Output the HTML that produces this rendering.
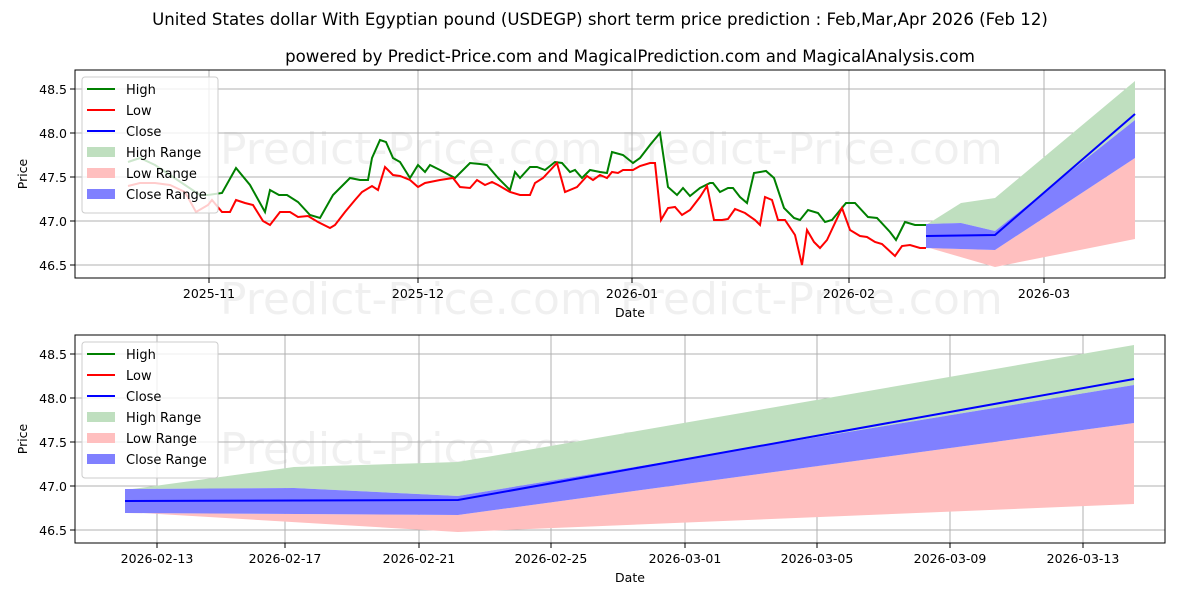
<!DOCTYPE html>
<html><head><meta charset="utf-8"><style>
body{margin:0;background:#fff}
text{font-family:"DejaVu Sans","Liberation Sans",sans-serif}
</style></head><body>
<svg width="1200" height="600" viewBox="0 0 1200 600" xmlns="http://www.w3.org/2000/svg">
<rect width="1200" height="600" fill="#fff"/>
<text x="600" y="25" font-size="16.6" text-anchor="middle">United States dollar With Egyptian pound (USDEGP) short term price prediction : Feb,Mar,Apr 2026 (Feb 12)</text>
<text x="630" y="62" font-size="16.6" text-anchor="middle">powered by Predict-Price.com and MagicalPrediction.com and MagicalAnalysis.com</text>
<g fill="#000" fill-opacity="0.06" font-size="44">
<text x="220" y="164">Predict-Price.com</text><text x="620" y="164">Predict-Price.com</text>
<text x="220" y="314">Predict-Price.com</text><text x="620" y="314">Predict-Price.com</text>
<text x="220" y="464">Predict-Price.com</text><text x="620" y="464">Predict-Price.com</text>
</g>
<!-- TOP -->
<g stroke="#b0b0b0" stroke-width="1">
<line x1="75" x2="1165" y1="89" y2="89"/><line x1="75" x2="1165" y1="133" y2="133"/><line x1="75" x2="1165" y1="177" y2="177"/><line x1="75" x2="1165" y1="221" y2="221"/><line x1="75" x2="1165" y1="265" y2="265"/>
<line x1="209" x2="209" y1="70" y2="278"/><line x1="418" x2="418" y1="70" y2="278"/><line x1="632" x2="632" y1="70" y2="278"/><line x1="849" x2="849" y1="70" y2="278"/><line x1="1044" x2="1044" y1="70" y2="278"/>
</g>
<polygon points="926,225 961,203 995,198 1135,81 1135,120 995,231 961,223 926,224" fill="#bfdfbf"/>
<polygon points="926,248 995,250 1135,158 1135,239 995,267 926,247" fill="#ffbfbf"/>
<polygon points="926,224 961,223 995,231 1135,120 1135,158 995,250 926,248" fill="#8080ff"/>
<polyline points="926,236 995,235 1135,114" fill="none" stroke="#0000ff" stroke-width="2"/>
<polyline fill="none" stroke="#008000" stroke-width="2" points="128,162 140,158 155,165 170,175 185,185 200,195 208,195 222,193 236,168 250,185 265,212 270,190 279,195 287,195 298,202 310,215 320,218 333,195 345,183 350,178 360,180 368,180 372,158 380,140 386,142 393,158 400,162 410,178 418,165 425,172 430,165 440,170 455,178 470,163 480,164 487,165 498,178 510,190 515,172 520,178 530,167 537,167 545,170 555,162 562,163 570,172 575,170 582,178 590,170 600,172 607,173 612,152 623,155 633,163 640,158 650,145 660,133 668,187 677,195 683,188 690,196 700,188 710,183 713,183 720,192 728,188 733,188 740,197 747,203 754,173 766,171 774,178 784,208 794,218 800,220 808,210 818,213 825,222 832,220 846,203 855,203 868,217 877,218 890,232 896,240 905,222 915,225 926,225"/>
<polyline fill="none" stroke="#ff0000" stroke-width="2" points="128,186 140,183 155,183 170,185 185,192 196,212 208,205 212,200 222,212 230,212 236,200 245,203 253,205 263,221 270,225 280,212 290,212 298,217 308,216 318,222 330,228 335,225 345,212 355,200 362,192 372,186 378,190 385,167 393,175 400,176 410,180 418,187 425,183 430,182 440,180 453,178 460,187 470,188 477,180 485,185 492,182 498,185 510,192 520,195 530,195 535,183 543,178 557,163 565,192 577,187 587,176 593,180 600,175 607,178 612,172 618,173 623,170 633,170 640,166 650,163 655,163 661,220 668,208 675,207 682,215 690,210 700,197 707,186 714,220 722,220 728,219 735,209 745,213 755,220 760,225 765,197 772,200 778,220 785,220 795,235 802,265 807,230 814,242 820,248 827,240 842,208 850,230 860,236 867,237 875,242 882,244 895,256 902,246 910,245 920,248 926,248"/>
<rect x="75" y="70" width="1090" height="208" fill="none" stroke="#000" stroke-width="1"/>
<g font-size="12.5" text-anchor="end">
<text x="67" y="94">48.5</text><text x="67" y="138">48.0</text><text x="67" y="182">47.5</text><text x="67" y="226">47.0</text><text x="67" y="270">46.5</text></g>
<g stroke="#000"><line x1="70" x2="75" y1="89" y2="89"/><line x1="70" x2="75" y1="133" y2="133"/><line x1="70" x2="75" y1="177" y2="177"/><line x1="70" x2="75" y1="221" y2="221"/><line x1="70" x2="75" y1="265" y2="265"/>
<line x1="209" x2="209" y1="278" y2="283"/><line x1="418" x2="418" y1="278" y2="283"/><line x1="632" x2="632" y1="278" y2="283"/><line x1="849" x2="849" y1="278" y2="283"/><line x1="1044" x2="1044" y1="278" y2="283"/></g>
<g font-size="12.5" text-anchor="middle"><text x="209" y="298">2025-11</text><text x="418" y="298">2025-12</text><text x="632" y="298">2026-01</text><text x="849" y="298">2026-02</text><text x="1044" y="298">2026-03</text>
<text x="630" y="317">Date</text></g>
<text x="27" y="174" font-size="12.5" text-anchor="middle" transform="rotate(-90 27 174)">Price</text>
<g>
<rect x="82" y="77" width="136" height="136" rx="3" fill="#fff" fill-opacity="0.8" stroke="#ccc"/>
<line x1="87" x2="115" y1="89" y2="89" stroke="#008000" stroke-width="2"/>
<line x1="87" x2="115" y1="110" y2="110" stroke="#ff0000" stroke-width="2"/>
<line x1="87" x2="115" y1="131" y2="131" stroke="#0000ff" stroke-width="2"/>
<rect x="87" y="147" width="28" height="10" fill="#bfdfbf"/>
<rect x="87" y="168" width="28" height="10" fill="#ffbfbf"/>
<rect x="87" y="189" width="28" height="10" fill="#8080ff"/>
<g font-size="13"><text x="126" y="94">High</text><text x="126" y="115">Low</text><text x="126" y="136">Close</text><text x="126" y="157">High Range</text><text x="126" y="178">Low Range</text><text x="126" y="199">Close Range</text></g>
</g>
<!-- BOTTOM -->
<g stroke="#b0b0b0" stroke-width="1">
<line x1="75" x2="1165" y1="354" y2="354"/><line x1="75" x2="1165" y1="398" y2="398"/><line x1="75" x2="1165" y1="442" y2="442"/><line x1="75" x2="1165" y1="486" y2="486"/><line x1="75" x2="1165" y1="530" y2="530"/>
<line x1="157" x2="157" y1="335" y2="543"/><line x1="285" x2="285" y1="335" y2="543"/><line x1="419" x2="419" y1="335" y2="543"/><line x1="551" x2="551" y1="335" y2="543"/><line x1="685" x2="685" y1="335" y2="543"/><line x1="817" x2="817" y1="335" y2="543"/><line x1="950" x2="950" y1="335" y2="543"/><line x1="1083" x2="1083" y1="335" y2="543"/>
</g>
<polygon points="125,490 294,467 458,462 1134,345 1134,385 458,496 294,488 125,489" fill="#bfdfbf"/>
<polygon points="125,513 458,515 1134,423 1134,504 458,532 125,512" fill="#ffbfbf"/>
<polygon points="125,489 294,488 458,496 1134,385 1134,423 458,515 125,513" fill="#8080ff"/>
<polyline points="125,501 458,500 1134,379" fill="none" stroke="#0000ff" stroke-width="2"/>
<rect x="75" y="335" width="1090" height="208" fill="none" stroke="#000" stroke-width="1"/>
<g font-size="12.5" text-anchor="end">
<text x="67" y="359">48.5</text><text x="67" y="403">48.0</text><text x="67" y="447">47.5</text><text x="67" y="491">47.0</text><text x="67" y="535">46.5</text></g>
<g stroke="#000"><line x1="70" x2="75" y1="354" y2="354"/><line x1="70" x2="75" y1="398" y2="398"/><line x1="70" x2="75" y1="442" y2="442"/><line x1="70" x2="75" y1="486" y2="486"/><line x1="70" x2="75" y1="530" y2="530"/>
<line x1="157" x2="157" y1="543" y2="548"/><line x1="285" x2="285" y1="543" y2="548"/><line x1="419" x2="419" y1="543" y2="548"/><line x1="551" x2="551" y1="543" y2="548"/><line x1="685" x2="685" y1="543" y2="548"/><line x1="817" x2="817" y1="543" y2="548"/><line x1="950" x2="950" y1="543" y2="548"/><line x1="1083" x2="1083" y1="543" y2="548"/></g>
<g font-size="12.5" text-anchor="middle"><text x="157" y="563">2026-02-13</text><text x="285" y="563">2026-02-17</text><text x="419" y="563">2026-02-21</text><text x="551" y="563">2026-02-25</text><text x="685" y="563">2026-03-01</text><text x="817" y="563">2026-03-05</text><text x="950" y="563">2026-03-09</text><text x="1083" y="563">2026-03-13</text>
<text x="630" y="582">Date</text></g>
<text x="27" y="439" font-size="12.5" text-anchor="middle" transform="rotate(-90 27 439)">Price</text>
<g>
<rect x="82" y="342" width="136" height="136" rx="3" fill="#fff" fill-opacity="0.8" stroke="#ccc"/>
<line x1="87" x2="115" y1="354" y2="354" stroke="#008000" stroke-width="2"/>
<line x1="87" x2="115" y1="375" y2="375" stroke="#ff0000" stroke-width="2"/>
<line x1="87" x2="115" y1="396" y2="396" stroke="#0000ff" stroke-width="2"/>
<rect x="87" y="412" width="28" height="10" fill="#bfdfbf"/>
<rect x="87" y="433" width="28" height="10" fill="#ffbfbf"/>
<rect x="87" y="454" width="28" height="10" fill="#8080ff"/>
<g font-size="13"><text x="126" y="359">High</text><text x="126" y="380">Low</text><text x="126" y="401">Close</text><text x="126" y="422">High Range</text><text x="126" y="443">Low Range</text><text x="126" y="464">Close Range</text></g>
</g>
</svg>
</body></html>
